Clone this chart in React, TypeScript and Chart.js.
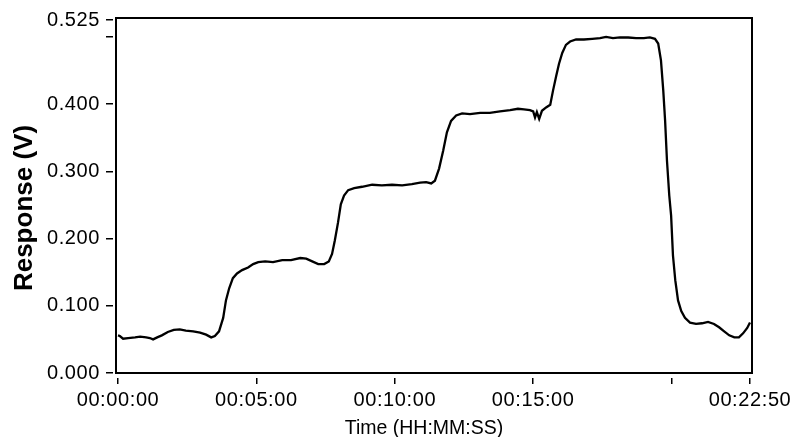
import React, { useEffect, useRef } from "react";
import { Chart, registerables } from "chart.js";

Chart.register(...registerables);

// Elapsed time in seconds
const timeSec = [
  0, 4, 11, 22, 37, 48, 61, 69, 76, 85, 95, 108, 121, 134, 147, 163, 178, 191, 202, 210,
  219, 228, 234, 241, 249, 258, 269, 282, 293, 304, 319, 336, 356, 375, 395, 408, 421, 434, 447, 457,
  464, 470, 477, 483, 490, 499, 512, 529, 551, 572, 594, 616, 637, 655, 668, 679, 687, 696, 705, 713,
  722, 733, 746, 763, 785, 806, 828, 850, 867, 880, 893, 900, 904, 908, 913, 919, 928, 937, 943, 950,
  956, 963, 971, 980, 993, 1010, 1028, 1045, 1058, 1073, 1088, 1106, 1123, 1140, 1153, 1164, 1171, 1177, 1182, 1186,
  1190, 1195, 1199, 1203, 1208, 1214, 1221, 1229, 1240, 1253, 1266, 1279, 1292, 1303, 1314, 1325, 1336, 1346, 1355, 1364,
  1370,
];

// Response in volts
const response = [
  0.056, 0.055, 0.051, 0.052, 0.053, 0.054, 0.053, 0.052, 0.050, 0.053, 0.056, 0.061, 0.064, 0.065, 0.063, 0.062, 0.060, 0.057, 0.053, 0.055,
  0.062, 0.082, 0.108, 0.126, 0.141, 0.148, 0.153, 0.157, 0.162, 0.165, 0.166, 0.165, 0.168, 0.168, 0.171, 0.170, 0.166, 0.162, 0.162, 0.166,
  0.177, 0.197, 0.224, 0.251, 0.264, 0.272, 0.275, 0.277, 0.280, 0.279, 0.280, 0.279, 0.281, 0.283, 0.284, 0.282, 0.286, 0.304, 0.331, 0.358,
  0.375, 0.383, 0.386, 0.385, 0.387, 0.387, 0.389, 0.391, 0.393, 0.392, 0.391, 0.389, 0.380, 0.388, 0.378, 0.390, 0.395, 0.399, 0.420, 0.442,
  0.460, 0.476, 0.488, 0.493, 0.496, 0.496, 0.497, 0.498, 0.500, 0.498, 0.499, 0.499, 0.498, 0.498, 0.499, 0.497, 0.490, 0.465, 0.420, 0.375,
  0.316, 0.264, 0.234, 0.175, 0.138, 0.108, 0.092, 0.082, 0.075, 0.073, 0.074, 0.076, 0.073, 0.068, 0.062, 0.056, 0.053, 0.053, 0.059, 0.067,
  0.075,
];

const xTickValues = [0, 300, 600, 900, 1200, 1370];
const xTickLabels = ["00:00:00", "00:05:00", "00:10:00", "00:15:00", "", "00:22:50"];
const yTickValues = [0, 0.1, 0.2, 0.3, 0.4, 0.5, 0.525];
const yTickLabels = ["0.000", "0.100", "0.200", "0.300", "0.400", "", "0.525"];
const xTitle = "Time (HH:MM:SS)";
const yTitle = "Response (V)";

const FONT = "'Liberation Sans', Arial, Helvetica, sans-serif";

const decorPlugin = {
  id: "decor",
  beforeUpdate(chart: any) {
    (chart.ctx as any).letterSpacing = "0.6px";
  },
  beforeDraw(chart: any) {
    (chart.ctx as any).letterSpacing = "0.6px";
  },
  afterDraw(chart: any) {
    const ctx = chart.ctx;
    const a = chart.chartArea;
    ctx.save();
    (ctx as any).letterSpacing = "0px";
    // frame
    ctx.strokeStyle = "#000";
    ctx.lineWidth = 2;
    ctx.beginPath();
    ctx.rect(a.left + 3, a.top, a.right - a.left - 3, a.bottom - 5 - a.top);
    ctx.stroke();
    // titles
    ctx.fillStyle = "#000";
    ctx.font = `19.5px ${FONT}`;
    ctx.textAlign = "center";
    ctx.textBaseline = "alphabetic";
    ctx.fillText(xTitle, 424, 434);
    ctx.save();
    ctx.translate(31.5, 208);
    ctx.rotate(-Math.PI / 2);
    ctx.font = `bold 26px ${FONT}`;
    ctx.fillText(yTitle, 0, 0);
    ctx.restore();
    ctx.restore();
  },
};

export default function App() {
  const ref = useRef<HTMLCanvasElement>(null);
  useEffect(() => {
    if (!ref.current) return;
    const points = timeSec.map((t, i) => ({ x: t, y: response[i] }));
    const chart = new Chart(ref.current, {
      type: "line",
      data: {
        datasets: [
          {
            data: points,
            borderColor: "#000",
            borderWidth: 2.3,
            pointRadius: 0,
            tension: 0,
            fill: false,
          },
        ],
      },
      options: {
        animation: false,
        responsive: false,
        devicePixelRatio: 1,
        layout: { padding: { top: 17, right: 45, left: 0, bottom: 0 } },
        plugins: { legend: { display: false }, tooltip: { enabled: false } },
        scales: {
          x: {
            type: "linear",
            min: -10.84,
            max: 1374.34,
            afterBuildTicks: (s: any) => {
              s.ticks = xTickValues.map((v) => ({ value: v }));
            },
            afterFit: (s: any) => {
              s.height = 59;
            },
            ticks: {
              autoSkip: false,
              maxRotation: 0,
              minRotation: 0,
              padding: 4,
              color: "#000",
              font: { family: FONT, size: 20 },
              callback: (v: any) => {
                const i = xTickValues.indexOf(Number(v));
                return i >= 0 ? xTickLabels[i] : "";
              },
            },
            grid: {
              drawOnChartArea: false,
              drawTicks: true,
              tickLength: 6,
              color: "#000",
              lineWidth: 1.5,
            },
            border: { display: false },
          },
          y: {
            type: "linear",
            min: -0.00742,
            max: 0.52797,
            afterBuildTicks: (s: any) => {
              s.ticks = yTickValues.map((v) => ({ value: v }));
            },
            afterFit: (s: any) => {
              s.width = 113;
            },
            ticks: {
              autoSkip: false,
              padding: 6,
              color: "#000",
              font: { family: FONT, size: 20 },
              callback: (v: any) => {
                const i = yTickValues.findIndex((t) => Math.abs(t - Number(v)) < 1e-9);
                return i >= 0 ? yTickLabels[i] : "";
              },
            },
            grid: {
              drawOnChartArea: false,
              drawTicks: true,
              tickLength: 7,
              color: "#000",
              lineWidth: 1.5,
            },
            border: { display: false },
          },
        },
      },
      plugins: [decorPlugin],
    } as any);
    return () => chart.destroy();
  }, []);
  return (
    <div style={{ position: "fixed", left: 0, top: 0, width: 797, height: 437, background: "#fff" }}>
      <canvas ref={ref} width={797} height={437} style={{ display: "block" }} />
    </div>
  );
}
